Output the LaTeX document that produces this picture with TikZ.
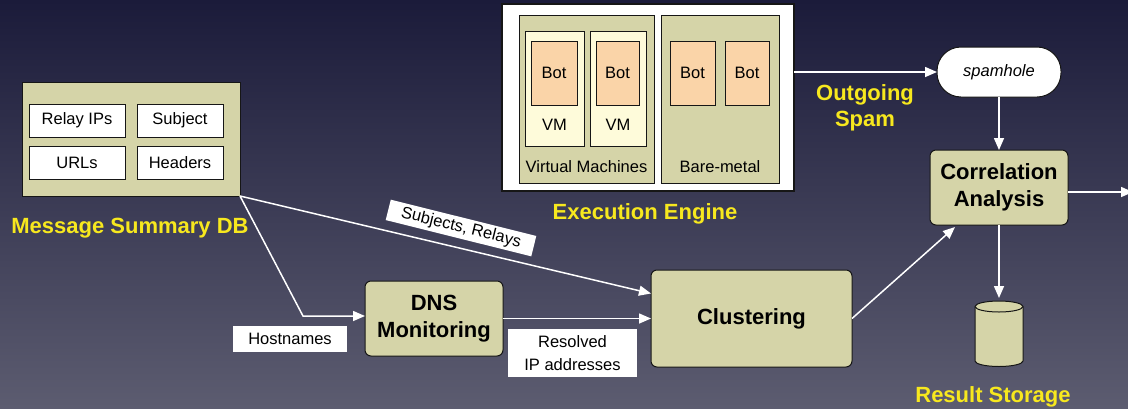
\documentclass[tikz,border=0pt]{standalone}
\usepackage{fontspec}
\setmainfont{Liberation Sans}
\usetikzlibrary{arrows.meta}
\definecolor{bgtop}{RGB}{27,27,58}
\definecolor{bgbot}{RGB}{92,92,112}
\definecolor{khaki}{RGB}{213,212,168}
\definecolor{vmfill}{RGB}{254,251,218}
\definecolor{botfill}{RGB}{250,212,168}
\definecolor{labelyellow}{RGB}{247,232,30}
\definecolor{edge}{RGB}{22,22,22}

\begin{document}
\begin{tikzpicture}[x=1pt,y=-1pt,
  every node/.style={inner sep=0pt, outer sep=0pt},
  smalltext/.style={font=\fontsize{16.5}{19}\selectfont},
  field/.style={draw=edge, line width=0.9pt, fill=white, smalltext},
  stage/.style={draw=edge, line width=1pt, fill=khaki, rounded corners=6pt,
    align=center, font=\bfseries\fontsize{22}{26.5}\selectfont},
  group/.style={draw=edge, line width=0.9pt, fill=khaki},
  vmbox/.style={draw=edge, line width=0.9pt, fill=vmfill},
  botbox/.style={draw=edge, line width=0.9pt, fill=botfill, smalltext,
    minimum height=64},
  caption/.style={text=labelyellow, align=center,
    font=\bfseries\fontsize{22}{26}\selectfont},
  tag/.style={fill=white, align=center, font=\fontsize{16.5}{23}\selectfont},
  flow/.style={draw=white, line width=1.5pt, -{Triangle[length=12pt,width=10pt]}},
  drum/.style={draw=edge, line width=1pt, fill=khaki}
]
% backdrop
\shade[top color=bgtop, bottom color=bgbot] (0,0) rectangle (1128,408);
\useasboundingbox (0,0) rectangle (1128,408);

% message summary database
\node[draw=edge, line width=1pt, fill=khaki, minimum width=218, minimum height=114] (msdb) at (131,139) {};
\node[field, minimum width=96, minimum height=33] (relay) at (77,120.5) {Relay IPs};
\node[field, minimum width=86, minimum height=33] (subject) at (180,120.5) {Subject};
\node[field, minimum width=96, minimum height=33] (urls) at (77,162.5) {URLs};
\node[field, minimum width=86, minimum height=33] (headers) at (180,162.5) {Headers};
\node[caption] (msdblabel) at (130,228) {Message Summary DB};

% execution engine
\node[draw=edge, line width=1.3pt, fill=white, minimum width=292, minimum height=187] (exec) at (648,97.5) {};
\node[group, minimum width=135, minimum height=168] (vms) at (586.5,99) {};
\node[group, minimum width=118, minimum height=168] (bare) at (720,99) {};
\node[vmbox, minimum width=59, minimum height=115] (vm1) at (554.5,88.5) {};
\node[vmbox, minimum width=56, minimum height=115] (vm2) at (618,88.5) {};
\node[botbox, minimum width=46] (bot1) at (554,73) {Bot};
\node[botbox, minimum width=43] (bot2) at (617.5,73) {Bot};
\node[botbox, minimum width=45] (bot3) at (692.5,73) {Bot};
\node[botbox, minimum width=44] (bot4) at (747,73) {Bot};
\node[smalltext] (vm1label) at (554.5,125) {VM};
\node[smalltext] (vm2label) at (618,125) {VM};
\node[smalltext] (vmslabel) at (586.5,167) {Virtual Machines};
\node[smalltext] (barelabel) at (720,167) {Bare-metal};
\node[caption] (execlabel) at (645,214) {Execution Engine};

% spam sink and analysis
\node[draw=edge, line width=1pt, fill=white, rounded corners=24pt, minimum width=124, minimum height=50,
  font=\itshape\fontsize{16.5}{19}\selectfont] (spam) at (999,72) {spamhole};
\node[caption] (outlabel) at (865,108) {Outgoing\\Spam};
\node[stage, minimum width=138, minimum height=75] (corr) at (999,187.5) {Correlation\\Analysis};

% result storage drum
\path[drum] (975,306.5) -- (975,361)
  arc[start angle=180, end angle=360, x radius=24pt, y radius=5.5pt]
  -- (1023,306.5)
  arc[start angle=0, end angle=180, x radius=24pt, y radius=5.5pt] -- cycle;
\draw[edge, line width=1pt] (975,306.5)
  arc[start angle=180, end angle=360, x radius=24pt, y radius=5.5pt];
\coordinate (storetop) at (999,298);
\node[caption] (storelabel) at (993,397) {Result Storage};

% processing stages
\node[stage, minimum width=201, minimum height=97] (clust) at (751.5,318.5) {Clustering};
\node[stage, minimum width=138, minimum height=75] (dns) at (434,318.5) {DNS\\Monitoring};

% edge labels
\node[tag, minimum width=114, minimum height=26] (hosttag) at (290,339) {Hostnames};
\node[tag, minimum width=129, minimum height=48] (restag) at (572.5,353) {Resolved\\IP addresses};
\node[tag, rotate=-14, minimum width=150, minimum height=21] (subjtag) at (461,228) {Subjects, Relays};

% connectors
\coordinate (bend) at (303,316);
\coordinate (offpage) at (1133,192);
\draw[flow] (msdb.south east) -- (bend) -- (dns.west |- bend);
\draw[flow] (msdb.south east) -- ([yshift=25pt]clust.west);
\draw[flow] (dns.east) -- (clust.west |- dns.east);
\draw[flow] (clust.east) -- ([xshift=25pt,yshift=-2pt]corr.south west);
\draw[flow] (exec.east |- spam.west) -- (spam.west);
\draw[flow] (spam.south) -- (corr.north);
\draw[flow] (corr.south) -- (storetop);
\draw[flow] (corr.east |- offpage) -- (offpage);
\end{tikzpicture}
\end{document}
